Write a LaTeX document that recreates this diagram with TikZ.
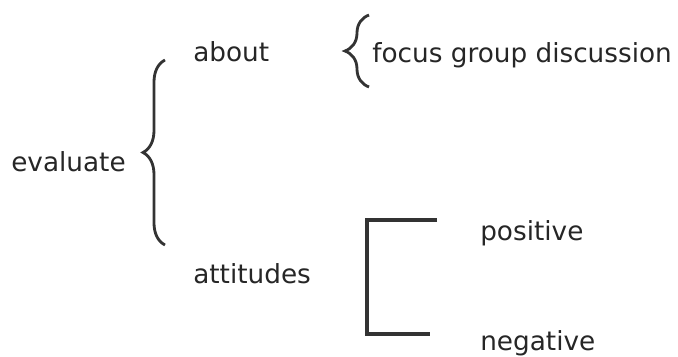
\documentclass[tikz,border=0pt]{standalone}
\usepackage{fontspec}
\setmainfont{DejaVu Sans}
\usetikzlibrary{decorations.pathreplacing}
\tikzset{
  word/.style={anchor=base west,inner sep=0pt,text=black!85,font=\fontsize{18.7}{22}\selectfont},
  curly/.style={decorate,decoration={brace,amplitude=#1},line width=2pt,black!80},
  bracket/.style={line width=2.4pt,black!80}
}
\begin{document}
\begin{tikzpicture}[x=0.025cm,y=-0.025cm]
\useasboundingbox (0,0) rectangle (678,356);
% labels
\node[word] (evaluate) at (11,171) {evaluate};
\node[word] (about) at (193,61) {about};
\node[word] (attitudes) at (193,283) {attitudes};
\node[word] (focus) at (372,62) {focus group discussion};
\node[word] (positive) at (480,240) {positive};
\node[word] (negative) at (480,350) {negative};
% braces
\coordinate (bigtop) at (165,60);
\coordinate (bigbot) at (165,245);
\draw[curly=0.55cm] (bigbot) -- (bigtop);
\coordinate (smalltop) at (369,15);
\coordinate (smallbot) at (369,87);
\draw[curly=0.6cm] (smallbot) -- (smalltop);
% square bracket
\coordinate (brtop) at (437,220);
\coordinate (brbot) at (430,334);
\draw[bracket] (brtop) -- (367,220) -- (367,334) -- (brbot);
\end{tikzpicture}
\end{document}
